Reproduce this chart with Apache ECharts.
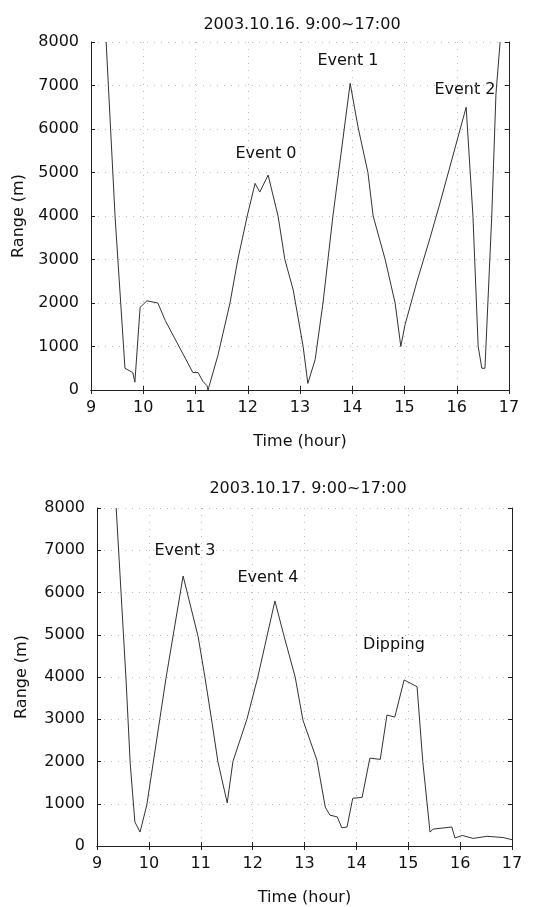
<!DOCTYPE html>
<html>
<head>
<meta charset="utf-8">
<script src="https://cdn.jsdelivr.net/npm/echarts@6/dist/echarts.min.js"></script>
<style>
  html, body { margin: 0; padding: 0; background: #fff; }
  #chart { width: 544px; height: 907px; }
</style>
</head>
<body>
<div id="chart"></div>
<script>
  // 2003.10.16
  const hours16 = [9.29, 9.46, 9.65, 9.80, 9.84, 9.94, 10.07, 10.28, 10.42, 10.95, 11.05, 11.14, 11.22, 11.24,
    11.43, 11.66, 11.81, 11.99, 12.14, 12.23, 12.39, 12.58, 12.71, 12.87, 13.06, 13.15, 13.29, 13.44, 13.63,
    13.96, 14.11, 14.30, 14.40, 14.63, 14.82, 14.93, 15.01, 15.24, 15.49, 15.68, 16.18, 16.31, 16.41, 16.48,
    16.54, 16.67, 16.75, 16.83]
  const range16 = [8000, 4000, 500, 400, 180, 1900, 2050, 2000, 1600, 400, 400, 200, 100, 0,
    800, 2000, 3000, 4000, 4750, 4550, 4940, 4000, 3000, 2300, 1000, 150, 700, 2000, 4000,
    7050, 6050, 5000, 4000, 3000, 2000, 1000, 1500, 2500, 3500, 4300, 6500, 4000, 1000, 500,
    500, 4000, 6800, 8000]

  // 2003.10.17
  const hours17 = [9.37, 9.56, 9.64, 9.73, 9.83, 9.96, 10.21, 10.33, 10.66, 10.95, 11.08, 11.22, 11.33, 11.51,
    11.62, 11.89, 12.10, 12.43, 12.59, 12.82, 12.97, 13.24, 13.40, 13.49, 13.63, 13.72, 13.82, 13.93, 14.11,
    14.26, 14.46, 14.59, 14.74, 14.92, 15.17, 15.28, 15.42, 15.48, 15.84, 15.90, 16.04, 16.25, 16.52, 16.83, 17.0]
  const range17 = [8000, 3930, 1960, 570, 330, 970, 3000, 3970, 6390, 4950, 4000, 2900, 2000, 1020,
    2000, 3000, 4000, 5800, 5040, 4000, 2980, 2030, 920, 730, 690, 430, 450, 1130, 1150,
    2080, 2050, 3100, 3050, 3930, 3770, 2000, 330, 400, 450, 190, 250, 180, 230, 200, 150]

  const titles = ['2003.10.16. 9:00~17:00', '2003.10.17. 9:00~17:00']
  const notes = [
    { text: 'Event 0', x: 266, y: 154 },
    { text: 'Event 1', x: 348, y: 61 },
    { text: 'Event 2', x: 465, y: 90 },
    { text: 'Event 3', x: 185, y: 551 },
    { text: 'Event 4', x: 268, y: 578 },
    { text: 'Dipping', x: 394, y: 645 }
  ]

  const font = 'DejaVu Sans, sans-serif'
  const chartInstance = echarts.init(document.getElementById('chart'), null, { renderer: 'canvas' })

  const grids = [
    { left: 91, top: 42, width: 418, height: 348 },
    { left: 97, top: 508, width: 415, height: 338 }
  ]
  const yNameGaps = [64, 67]

  function pairs(xs, ys) {
    return xs.map((x, i) => [x, ys[i]])
  }

  const xAxes = []
  const yAxes = []
  grids.forEach((g, i) => {
    // bottom axis with labels
    xAxes.push({
      gridIndex: i, type: 'value', min: 9, max: 17, interval: 1,
      name: 'Time (hour)', nameLocation: 'middle', nameGap: 44,
      nameTextStyle: { fontSize: 16, color: '#111', fontFamily: font },
      axisLine: { lineStyle: { color: '#222', width: 1 } },
      axisTick: { inside: true, length: 4, lineStyle: { color: '#222' } },
      axisLabel: { fontSize: 16, color: '#111', margin: 10, fontFamily: font },
      splitLine: { show: true, lineStyle: { color: '#bbb', type: [1, 6] } }
    })
    // top axis, ticks only
    xAxes.push({
      gridIndex: i, type: 'value', min: 9, max: 17, interval: 1, position: 'top',
      axisLine: { show: true, lineStyle: { color: '#222', width: 1 } },
      axisTick: { show: true, inside: true, length: 4, lineStyle: { color: '#222' } },
      axisLabel: { show: false }, splitLine: { show: false }
    })
    yAxes.push({
      gridIndex: i, type: 'value', min: 0, max: 8000, interval: 1000,
      name: 'Range (m)', nameLocation: 'middle', nameGap: yNameGaps[i],
      nameTextStyle: { fontSize: 16, color: '#111', fontFamily: font },
      axisLine: { show: true, lineStyle: { color: '#222', width: 1 } },
      axisTick: { show: true, inside: true, length: 4, lineStyle: { color: '#222' } },
      axisLabel: { fontSize: 16, color: '#111', margin: 12, fontFamily: font, formatter: v => String(v) },
      splitLine: { show: true, lineStyle: { color: '#bbb', type: [1, 6] } }
    })
    yAxes.push({
      gridIndex: i, type: 'value', min: 0, max: 8000, interval: 1000, position: 'right',
      axisLine: { show: true, lineStyle: { color: '#222', width: 1 } },
      axisTick: { show: true, inside: true, length: 4, lineStyle: { color: '#222' } },
      axisLabel: { show: false }, splitLine: { show: false }
    })
  })

  const option = {
    backgroundColor: '#fff',
    animation: false,
    title: [
      { text: titles[0], left: 297, top: 12, textAlign: 'center',
        textStyle: { fontSize: 16, fontWeight: 'normal', color: '#111', fontFamily: font } },
      { text: titles[1], left: 303, top: 476, textAlign: 'center',
        textStyle: { fontSize: 16, fontWeight: 'normal', color: '#111', fontFamily: font } }
    ],
    grid: grids,
    xAxis: xAxes,
    yAxis: yAxes,
    series: [
      {
        type: 'line', xAxisIndex: 0, yAxisIndex: 0, data: pairs(hours16, range16),
        showSymbol: false, clip: true, lineStyle: { color: '#333', width: 1 }
      },
      {
        type: 'line', xAxisIndex: 2, yAxisIndex: 2, data: pairs(hours17, range17),
        showSymbol: false, clip: true, lineStyle: { color: '#333', width: 1 }
      }
    ],
    graphic: notes.map(n => ({
      type: 'text', x: n.x, y: n.y,
      style: { text: n.text, fontSize: 16, fill: '#111', fontFamily: font, align: 'center', verticalAlign: 'middle' }
    }))
  }

  chartInstance.setOption(option)
</script>
</body>
</html>
